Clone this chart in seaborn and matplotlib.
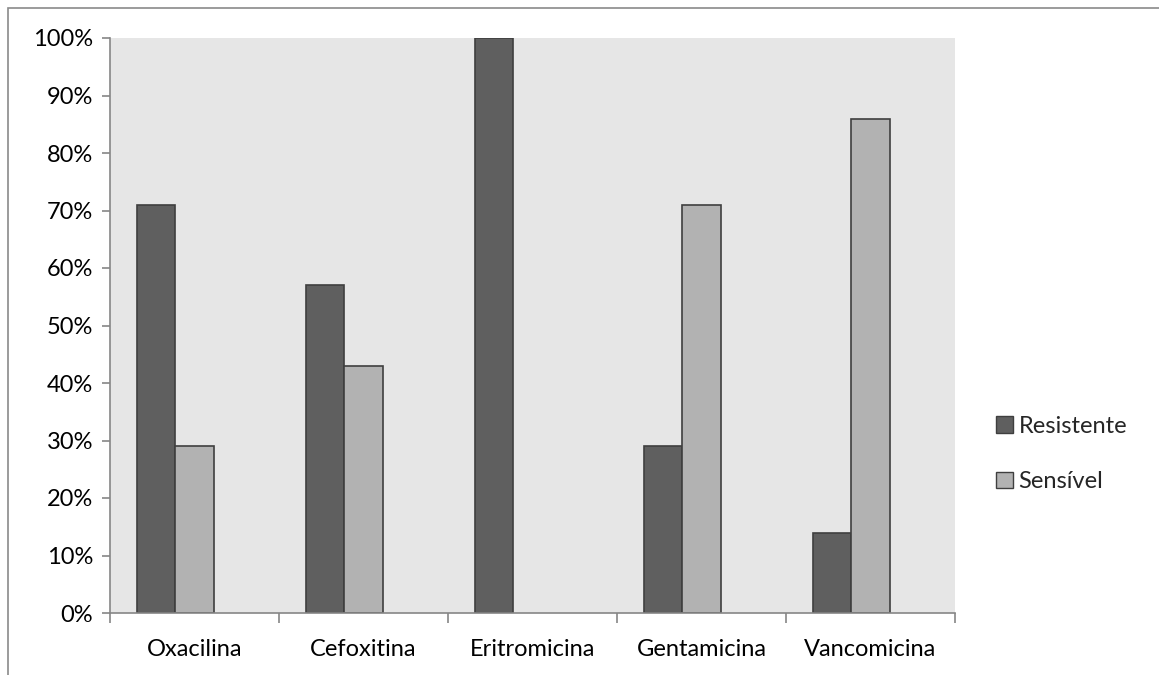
import matplotlib
matplotlib.use("Agg")
import matplotlib.pyplot as plt
import matplotlib.patches as mpatches
from matplotlib.ticker import PercentFormatter, FixedLocator
import seaborn as sns
import pandas as pd
import numpy as np

categories = ["Oxacilina", "Cefoxitina", "Eritromicina", "Gentamicina", "Vancomicina"]
resistente = [71, 57, 100, 29, 14]
sensivel = [29, 43, 0, 71, 86]
series_names = ["Resistente", "Sensível"]
yticks = [0, 10, 20, 30, 40, 50, 60, 70, 80, 90, 100]

rows = []
for c, r, s in zip(categories, resistente, sensivel):
    rows.append({"cat": c, "serie": series_names[0], "val": r})
    rows.append({"cat": c, "serie": series_names[1], "val": s})
    rows.append({"cat": c, "serie": " ", "val": np.nan})
df = pd.DataFrame(rows)

sns.set_theme(style="white")
plt.rcParams["font.family"] = ["Lato", "DejaVu Sans"]

fig = plt.figure(figsize=(11.59, 6.75), dpi=100)
ax = fig.add_axes([110/1159, 1-613/675, (955-110)/1159, (613-38)/675])

dark = "#5f5f5f"
light = "#b2b2b2"
sns.barplot(data=df, x="cat", y="val", hue="serie",
            hue_order=[series_names[0], series_names[1], " "],
            palette=[dark, light, "#ffffff"], width=0.675,
            edgecolor="#3f3f3f", linewidth=1.2, saturation=1,
            ax=ax, legend=False)
for p in ax.patches:
    h = p.get_height()
    if not np.isfinite(h) or h == 0:
        p.set_linewidth(0)

ax.set_facecolor("#e6e6e6")
ax.set_xlim(-0.5, 4.5)
ax.set_ylim(0, 100)
ax.set_yticks(yticks)
ax.yaxis.set_major_formatter(PercentFormatter(decimals=0))
ax.set_xlabel("")
ax.set_ylabel("")
for s in ["top", "right"]:
    ax.spines[s].set_visible(False)
for s in ["left", "bottom"]:
    ax.spines[s].set_color("#868686")
    ax.spines[s].set_linewidth(1.2)
ax.tick_params(axis="y", which="major", left=True, length=6, width=1.2,
               color="#868686", labelsize=17, labelcolor="#000000", pad=6)
ax.tick_params(axis="x", which="major", bottom=False, labelsize=17,
               labelcolor="#000000", pad=13)
ax.xaxis.set_minor_locator(FixedLocator(np.arange(-0.5, 5.0, 1.0)))
ax.tick_params(axis="x", which="minor", bottom=True, length=7, width=1.2,
               color="#868686")

handles = [mpatches.Patch(facecolor=dark, edgecolor="#3f3f3f", label=series_names[0]),
           mpatches.Patch(facecolor=light, edgecolor="#3f3f3f", label=series_names[1])]
fig.legend(handles=handles, loc="center left", bbox_to_anchor=(975/1159, 1-454/675),
           frameon=False, fontsize=17, handlelength=0.7, handleheight=0.7,
           handletextpad=0.25, labelspacing=1.45)

border = mpatches.Rectangle((8/1159, -0.1), 1.2, 1-8/675+0.1, transform=fig.transFigure,
                            fill=False, edgecolor="#8a8a8a", linewidth=1.2)
fig.patches.append(border)

fig.savefig("out.png", dpi=100, facecolor="white")
